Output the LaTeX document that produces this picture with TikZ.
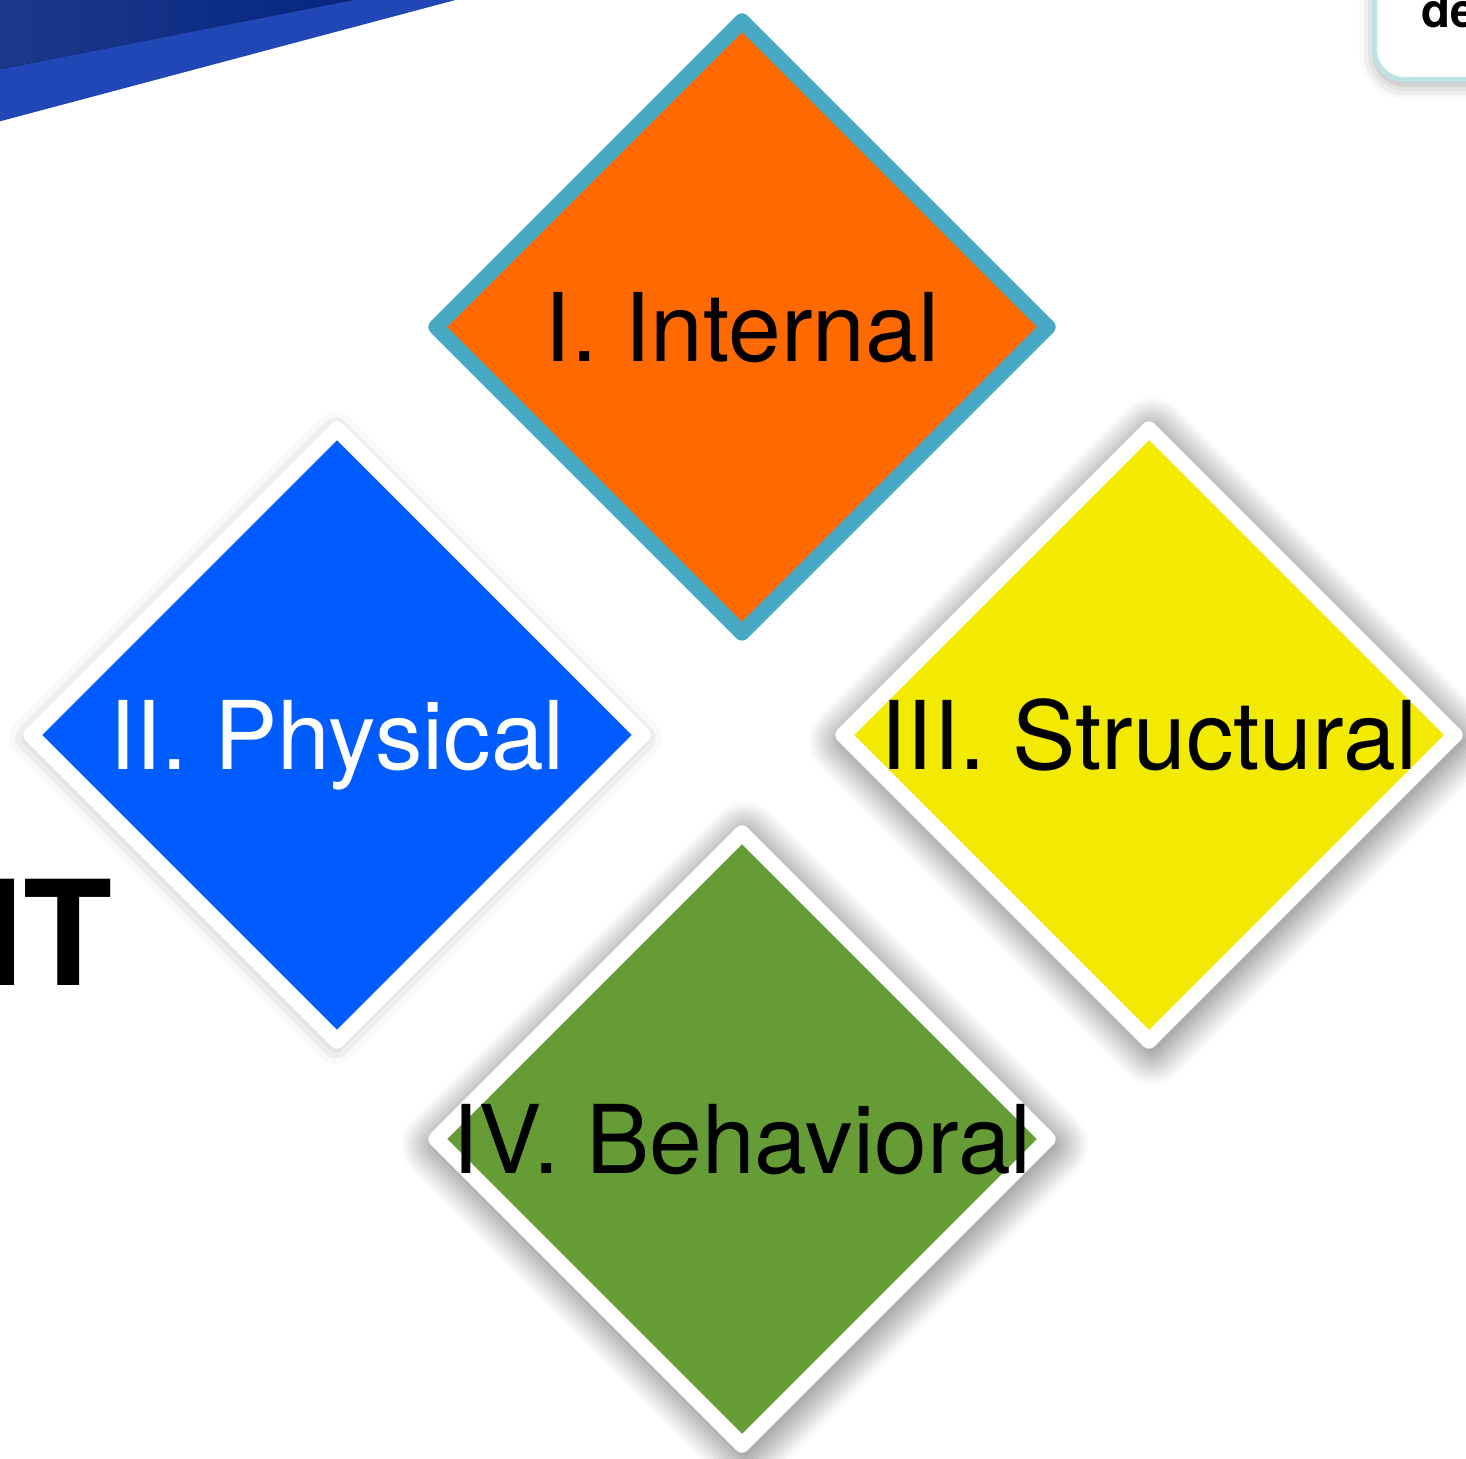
\documentclass[tikz,border=0pt]{standalone}
\usepackage{fontspec}
\setmainfont{TeX Gyre Heros}
\usetikzlibrary{shapes.geometric,shadows.blur}

\definecolor{bannerdark}{HTML}{03237F}
\definecolor{bannerlight}{HTML}{2147B7}
\definecolor{tealedge}{HTML}{47A9C4}
\definecolor{boxedge}{HTML}{BEE3E4}
\definecolor{internalfill}{HTML}{FF6A00}
\definecolor{physicalfill}{HTML}{005CFF}
\definecolor{structuralfill}{HTML}{F2EA00}
\definecolor{behavioralfill}{HTML}{669C35}

\begin{document}
\begin{tikzpicture}[
        x=0.02cm, y=-0.02cm,
        gem/.style={diamond, aspect=1, minimum size=12.24cm, inner sep=0pt, outer sep=0pt, line width=0.31cm, line join=round, draw=white},
        gemshadow/.style={blur shadow={shadow xshift=0.06cm, shadow yshift=-0.12cm, shadow blur radius=0.75cm, shadow blur steps=12, shadow opacity=75}},
        tag/.style={font=\fontsize{54}{60}\selectfont, inner sep=0pt, text height=39pt, text depth=0pt}
    ]
    \useasboundingbox (0,0) rectangle (1466,1459);

    % Banner in the corner
    \fill[bannerlight] (-10,124) -- (-10,-10) -- (493,-10) -- cycle;
    \fill[left color=bannerdark!90!white, right color=bannerdark] (-10,71) -- (-10,-10) -- (403,-10) -- cycle;

    % Box cut off at the top right
    \node[draw=boxedge, line width=0.1cm, rounded corners=0.6cm, fill=white, minimum width=4.56cm, minimum height=2.84cm, anchor=south west,
          blur shadow={shadow xshift=0cm, shadow yshift=-0.1cm, shadow blur radius=0.3cm, shadow opacity=35}] (cornerbox) at (1372,82) {};
    \node[anchor=base west, inner sep=0pt, font=\bfseries\fontsize{27}{30}\selectfont] (cornertext) at (1421,28) {de};

    % Title cut off at the left
    \node[anchor=base east, inner sep=0pt, font=\bfseries\fontsize{83}{90}\selectfont] (sidetitle) at (113,985) {IT};

    % The four diamonds
    \node[gem, draw=tealedge, fill=internalfill, label={[tag]center:I. Internal}] (internal) at (742,327) {};
    \node[gem, fill=physicalfill, blur shadow={shadow xshift=-0.03cm, shadow yshift=-0.06cm, shadow blur radius=0.4cm, shadow opacity=35},
          label={[tag, text=white]center:II. Physical}] (physical) at (337,735) {};
    \node[gem, gemshadow, fill=structuralfill, label={[tag]center:III. Structural}] (structural) at (1149,735) {};
    \node[gem, gemshadow, fill=behavioralfill, label={[tag]center:IV. Behavioral}] (behavioral) at (742,1139) {};

\end{tikzpicture}
\end{document}
